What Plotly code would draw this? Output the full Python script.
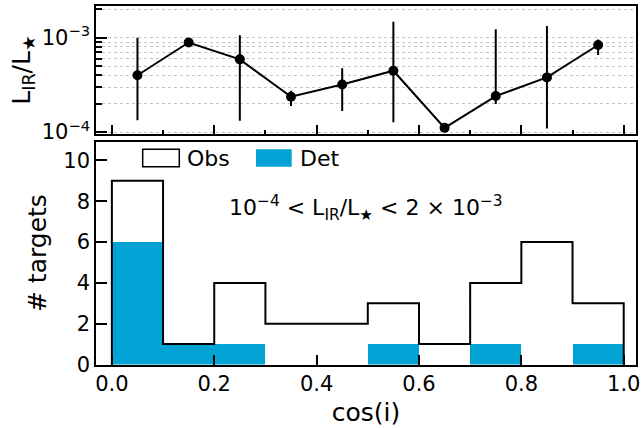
import plotly.graph_objects as go

# ---------------- data ----------------
bin_edges = [0.0, 0.1, 0.2, 0.3, 0.4, 0.5, 0.6, 0.7, 0.8, 0.9, 1.0]
bin_centers = [0.05, 0.15, 0.25, 0.35, 0.45, 0.55, 0.65, 0.75, 0.85, 0.95]
obs_counts = [9, 1, 4, 2, 2, 3, 1, 4, 6, 3]
det_counts = [6, 1, 1, 0, 0, 1, 0, 1, 0, 1]

lir_ratio = [4.0e-4, 8.9e-4, 5.9e-4, 2.37e-4, 3.2e-4, 4.47e-4, 1.11e-4, 2.41e-4, 3.8e-4, 8.37e-4]
lir_upper = [1.0e-3, 8.9e-4, 1.06e-3, 2.75e-4, 4.74e-4, 1.48e-3, 1.11e-4, 1.23e-3, 1.33e-3, 9.6e-4]
lir_lower = [1.34e-4, 8.9e-4, 1.32e-4, 1.89e-4, 1.67e-4, 1.27e-4, 1.11e-4, 1.99e-4, 1.09e-4, 6.56e-4]

top_major_vals = [1e-4, 1e-3]
top_major_text = ["10<sup>\u22124</sup>", "10<sup>\u22123</sup>"]
top_minor_vals = [2e-4, 3e-4, 4e-4, 5e-4, 6e-4, 7e-4, 8e-4, 9e-4, 2e-3]
bottom_x_ticks = [0.0, 0.2, 0.4, 0.6, 0.8, 1.0]
bottom_x_text = ["0.0", "0.2", "0.4", "0.6", "0.8", "1.0"]
bottom_y_ticks = [0, 2, 4, 6, 8, 10]

DET_COLOR = "#00a3d3"
FONT = "DejaVu Sans"
GRID = "#c4c4c4"

err_plus = [u - v for u, v in zip(lir_upper, lir_ratio)]
err_minus = [v - l for v, l in zip(lir_ratio, lir_lower)]

step_x = [bin_edges[0]]
step_y = [0]
for i, c in enumerate(obs_counts):
    step_x += [bin_edges[i], bin_edges[i + 1]]
    step_y += [c, c]
step_x.append(bin_edges[-1])
step_y.append(0)

fig = go.Figure()

fig.add_trace(go.Scatter(
    x=bin_centers, y=lir_ratio, mode="lines+markers",
    line=dict(color="black", width=2),
    marker=dict(color="black", size=10),
    error_y=dict(type="data", symmetric=False, array=err_plus, arrayminus=err_minus,
                 color="black", thickness=2, width=0),
    xaxis="x", yaxis="y", showlegend=False, cliponaxis=False,
))

fig.add_trace(go.Bar(
    x=bin_centers, y=det_counts, width=0.1,
    marker=dict(color=DET_COLOR, line=dict(width=0)),
    xaxis="x2", yaxis="y2", showlegend=False,
))
fig.add_trace(go.Scatter(
    x=step_x, y=step_y, mode="lines",
    line=dict(color="black", width=2),
    xaxis="x2", yaxis="y2", showlegend=False,
))

W, H = 642, 428
ml, mr, mt, mb = 96, 6, 5, 63
pw = W - ml - mr
ph = H - mt - mb

def px(xp):
    return (xp - ml) / pw

def py(yp):
    return (H - mb - yp) / ph

top_dom = [py(134.3), py(5.7)]
bot_dom = [py(364.5), py(141.7)]

axis_common = dict(showline=True, linecolor="black", linewidth=1.5, mirror=True,
                   ticks="inside", tickcolor="black", tickwidth=1.5,
                   tickfont=dict(family=FONT, size=21, color="black"),
                   zeroline=False, automargin=False)

fig.update_layout(
    width=W, height=H,
    margin=dict(l=ml, r=mr, t=mt, b=mb),
    paper_bgcolor="white", plot_bgcolor="white",
    font=dict(family=FONT, color="black"),
    bargap=0,
    xaxis=dict(**axis_common, domain=[0, 1], range=[-0.031, 1.024], anchor="y",
               tickvals=bottom_x_ticks, showticklabels=False, ticklen=10, showgrid=False,
               minor=dict(dtick=0.1, tick0=0, ticks="inside", ticklen=5, tickcolor="black",
                          tickwidth=1.5, showgrid=False)),
    yaxis=dict(**axis_common, domain=top_dom, type="log", range=[-4.023, -2.661], anchor="x",
               tickvals=top_major_vals, ticktext=top_major_text, ticklen=11,
               showgrid=True, gridcolor=GRID, griddash="dot", gridwidth=1,
               minor=dict(tickvals=top_minor_vals, ticks="inside", ticklen=6,
                          tickcolor="black", tickwidth=1.5, showgrid=True,
                          gridcolor=GRID, griddash="dot", gridwidth=1),
               title=dict(text="L<sub>IR</sub>/L<sub>\u2605</sub>",
                          font=dict(family=FONT, size=25), standoff=4)),
    xaxis2=dict(**axis_common, domain=[0, 1], range=[-0.031, 1.024], anchor="y2",
                tickvals=bottom_x_ticks, ticktext=bottom_x_text, ticklen=10, showgrid=False,
                title=dict(text="cos(i)", font=dict(family=FONT, size=25), standoff=8)),
    yaxis2=dict(**axis_common, domain=bot_dom, range=[0, 10.92], anchor="x2",
                tickvals=bottom_y_ticks, ticklen=11, showgrid=False,
                title=dict(text="# targets", font=dict(family=FONT, size=25), standoff=10)),
)

# legend drawn manually
fig.add_shape(type="rect", xref="paper", yref="paper",
              x0=px(142.7), x1=px(179.3), y0=py(166.7), y1=py(149.3),
              line=dict(color="black", width=1.5), fillcolor="white")
fig.add_shape(type="rect", xref="paper", yref="paper",
              x0=px(256), x1=px(291.7), y0=py(166.7), y1=py(149.3),
              line=dict(width=0), fillcolor=DET_COLOR)
fig.add_annotation(text="Obs", xref="paper", yref="paper", x=px(185), y=py(158),
                   xanchor="left", yanchor="middle", showarrow=False,
                   font=dict(family=FONT, size=22, color="black"))
fig.add_annotation(text="Det", xref="paper", yref="paper", x=px(298), y=py(158),
                   xanchor="left", yanchor="middle", showarrow=False,
                   font=dict(family=FONT, size=22, color="black"))

fig.add_annotation(
    text="10<sup>\u22124</sup> < L<sub>IR</sub>/L<sub>\u2605</sub> < 2 \u00d7 10<sup>\u22123</sup>",
    xref="paper", yref="paper", x=px(366), y=py(208), xanchor="center", yanchor="middle",
    showarrow=False, font=dict(family=FONT, size=22, color="black"))

fig.write_html("out.html", config={"displayModeBar": False},
               post_script="document.body.style.margin='0';document.body.style.overflow='hidden';")
